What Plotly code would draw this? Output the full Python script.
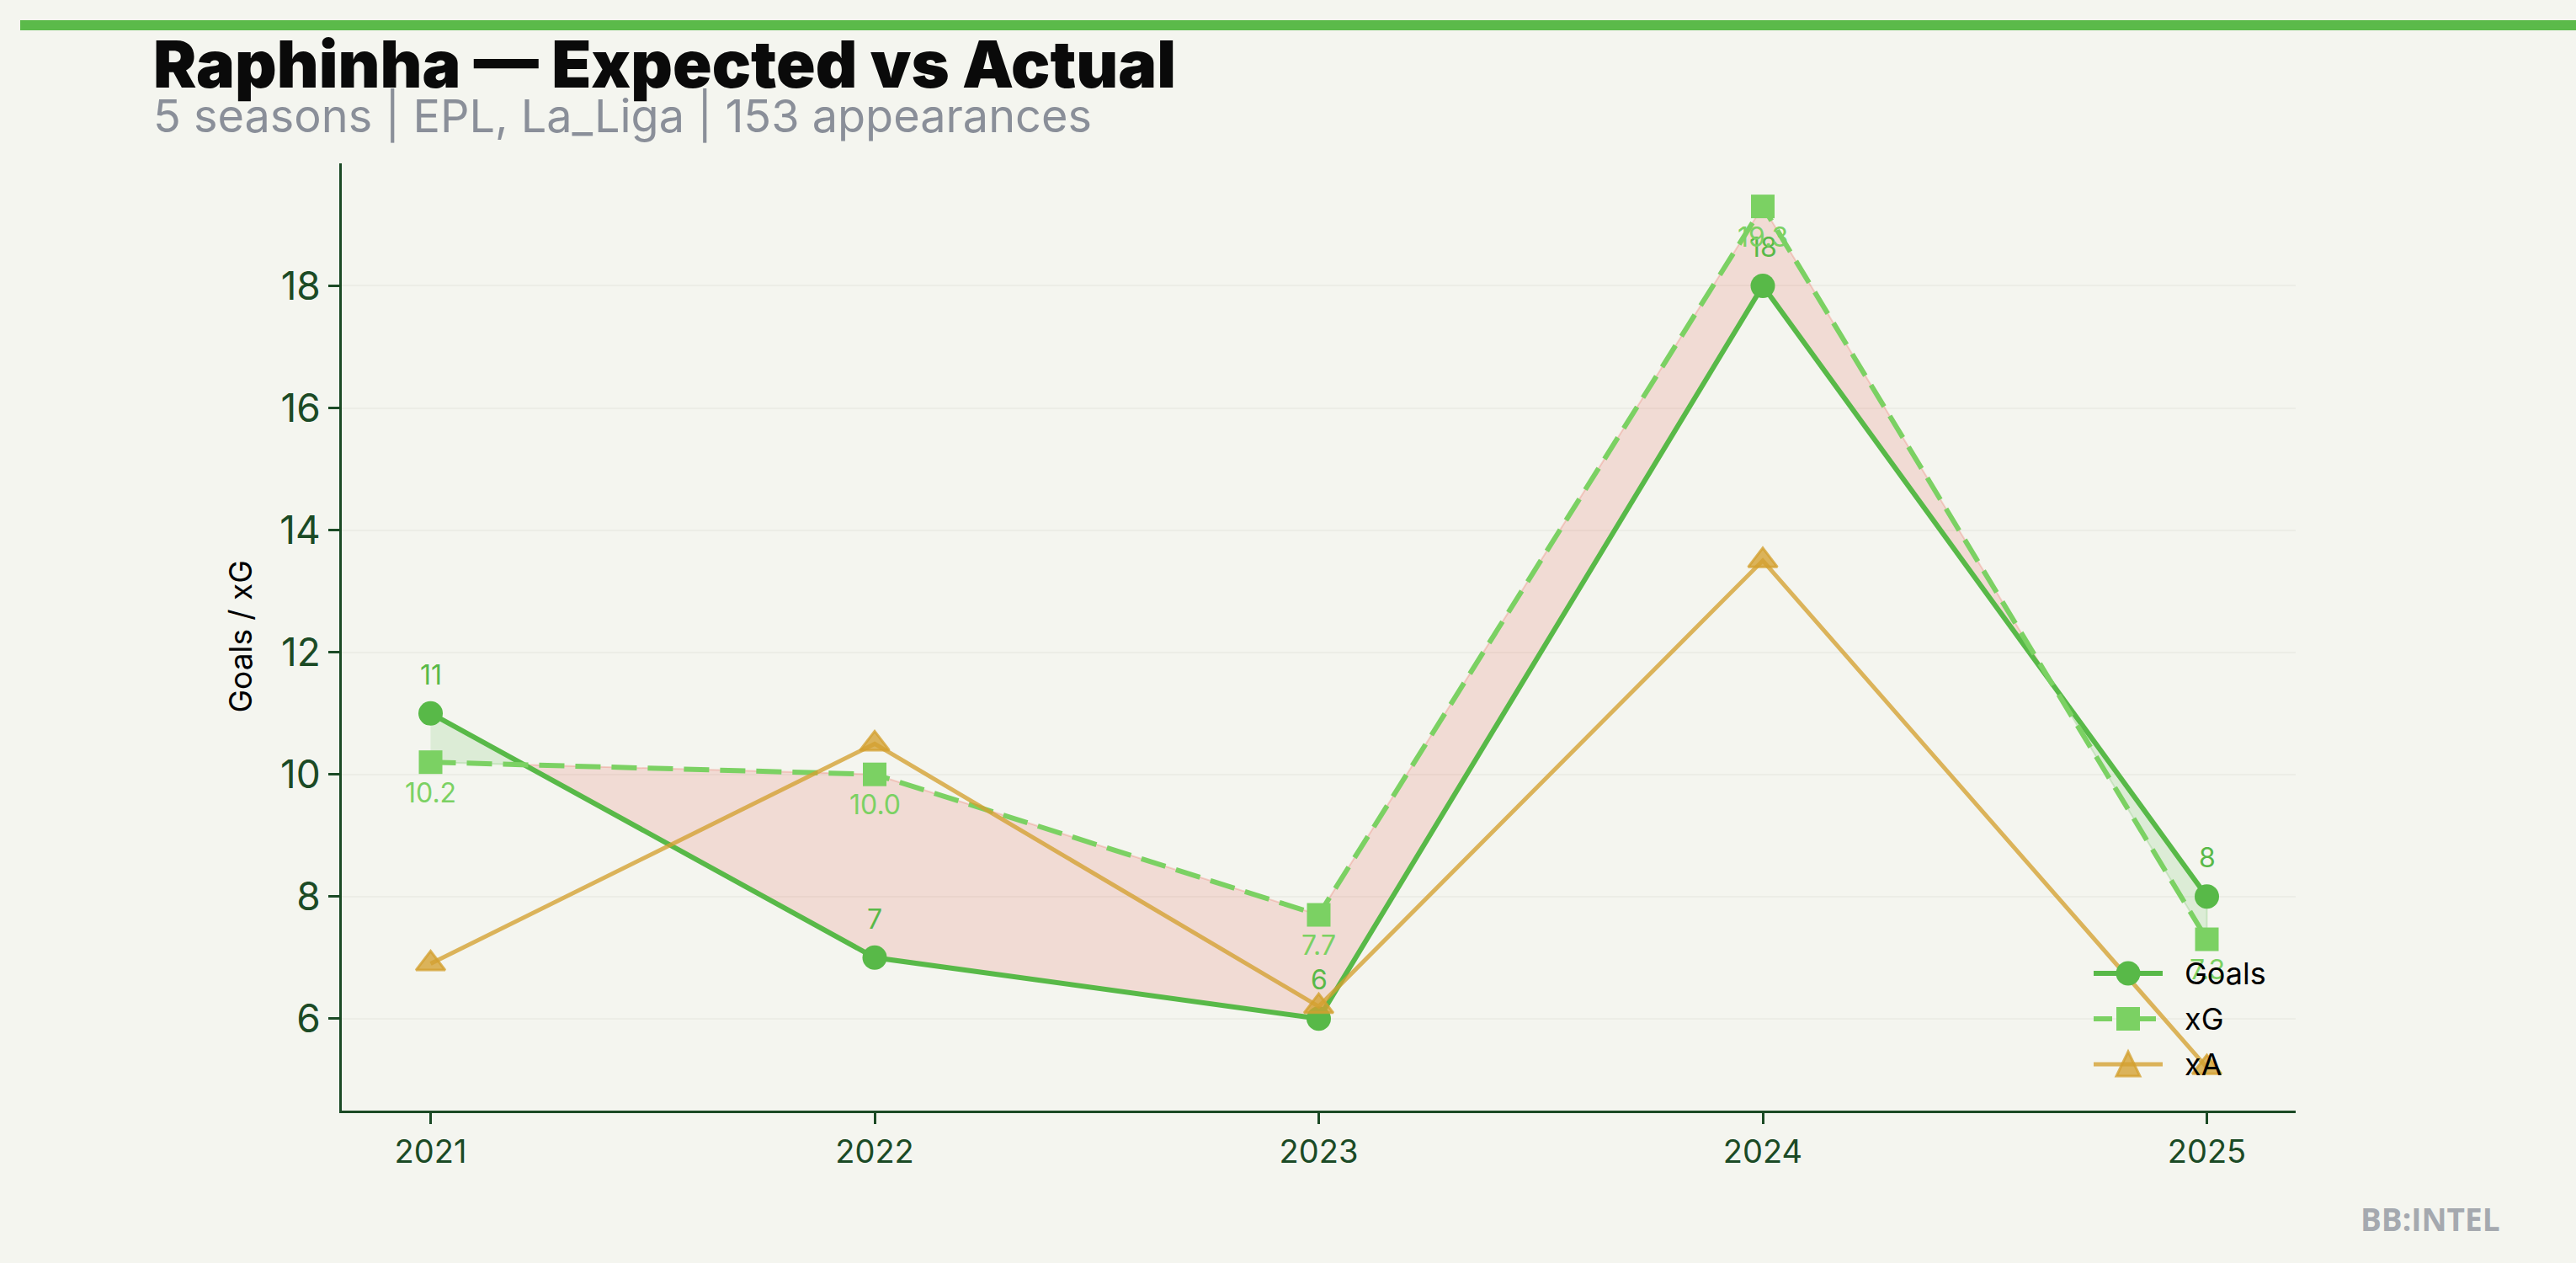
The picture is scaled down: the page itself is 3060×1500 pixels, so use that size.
import plotly.graph_objects as go

# ---- data ----
seasons = [2021, 2022, 2023, 2024, 2025]
goals = [11, 7, 6, 18, 8]
xg = [10.2, 10.0, 7.7, 19.3, 7.3]
xa = [6.9, 10.5, 6.2, 13.5, 5.2]
y_ticks = [6, 8, 10, 12, 14, 16, 18]
series_names = ["Goals", "xG", "xA"]

title_text = "Raphinha — Expected vs Actual"
subtitle_text = "5 seasons | EPL, La_Liga | 153 appearances"
brand_text = "BB:INTEL"

# ---- styles ----
BG = "#F4F5EF"
C_GOALS = "#58B948"
C_XG = "#7BD163"
C_XA = "rgba(212,160,48,0.78)"
AXIS = "#1B4A25"
W, H = 3060, 1500
L, R, T, B = 406, 333, 194, 181
PW, PH = W - L - R, H - T - B


def px_x(px):
    return (px - L) / PW


def px_y(py):
    return (H - B - py) / PH


fig = go.Figure()

# ---- fill between goals and xG (computed from data, split at crossings) ----
pts = []
n = len(seasons)
for i in range(n - 1):
    pts.append((float(seasons[i]), goals[i], xg[i]))
    d0 = goals[i] - xg[i]
    d1 = goals[i + 1] - xg[i + 1]
    if d0 * d1 < 0:
        t = d0 / (d0 - d1)
        xc = seasons[i] + t * (seasons[i + 1] - seasons[i])
        yc = goals[i] + t * (goals[i + 1] - goals[i])
        pts.append((xc, yc, yc))
pts.append((float(seasons[-1]), goals[-1], xg[-1]))

regions = []
cur = [pts[0]]
for p in pts[1:]:
    cur.append(p)
    if abs(p[1] - p[2]) < 1e-12 and len(cur) > 1:
        regions.append(cur)
        cur = [p]
if len(cur) > 1:
    regions.append(cur)

for reg in regions:
    diff = sum(p[1] - p[2] for p in reg)
    if diff >= 0:
        fc, lc = "rgba(90,185,74,0.15)", "rgba(90,185,74,0.22)"
    else:
        fc, lc = "rgba(231,76,60,0.15)", "rgba(231,76,60,0.22)"
    xs = [p[0] for p in reg] + [p[0] for p in reversed(reg)]
    ys = [p[1] for p in reg] + [p[2] for p in reversed(reg)]
    fig.add_trace(go.Scatter(x=xs, y=ys, fill="toself", fillcolor=fc,
                             mode="lines", line=dict(color=lc, width=2),
                             hoverinfo="skip", showlegend=False))

# ---- lines ----
fig.add_trace(go.Scatter(x=seasons, y=goals, name=series_names[0], mode="lines+markers",
                         line=dict(color=C_GOALS, width=6),
                         marker=dict(symbol="circle", size=29, color=C_GOALS),
                         showlegend=False))
fig.add_trace(go.Scatter(x=seasons, y=xg, name=series_names[1], mode="lines+markers",
                         line=dict(color=C_XG, width=6, dash="30px,13px"),
                         marker=dict(symbol="square", size=28, color=C_XG),
                         showlegend=False))
fig.add_trace(go.Scatter(x=seasons, y=xa, name=series_names[2], mode="lines+markers",
                         line=dict(color=C_XA, width=5),
                         marker=dict(symbol="triangle-up", size=30, color=C_XA,
                                     line=dict(color=C_XA, width=3)),
                         showlegend=False))

annotations = []
for s, g in zip(seasons, goals):
    annotations.append(dict(x=s, y=g, xref="x", yref="y", text=f"{g}", showarrow=False,
                            yshift=46, font=dict(family="Inter", size=32, color=C_GOALS)))
for s, v in zip(seasons, xg):
    annotations.append(dict(x=s, y=v, xref="x", yref="y", text=f"{v:.1f}", showarrow=False,
                            yshift=-36, font=dict(family="Inter", size=32, color=C_XG)))

# titles
annotations.append(dict(x=px_x(180), y=px_y(76), xref="paper", yref="paper", text=title_text,
                        showarrow=False, xanchor="left", yanchor="middle",
                        font=dict(family="Inter", size=77, color="#0A0A0A", weight=900)))
annotations.append(dict(x=px_x(180), y=px_y(137), xref="paper", yref="paper", text=subtitle_text,
                        showarrow=False, xanchor="left", yanchor="middle",
                        font=dict(family="Inter", size=54, color="#8A8F99")))
annotations.append(dict(x=px_x(2887), y=px_y(1447), xref="paper", yref="paper", text=brand_text,
                        showarrow=False, xanchor="center", yanchor="middle",
                        font=dict(family="Open Sans", size=37, color="#A5A9AF", weight=700)))
annotations.append(dict(x=px_x(285), y=0.5, xref="paper", yref="paper", text="Goals / xG",
                        showarrow=False, textangle=-90, xanchor="center", yanchor="middle",
                        font=dict(family="Inter", size=37, color="#000000")))

# ---- manual legend (large symbols like the reference) ----
shapes = [dict(type="rect", xref="paper", yref="paper",
               x0=px_x(24), x1=px_x(3060), y0=px_y(36), y1=px_y(24),
               fillcolor="#5BBA4A", line=dict(width=0), layer="above")]
leg_x_sym = px_x(2528)
leg_x_text = px_x(2593)
leg_rows = [1156, 1210, 1264]
leg_styles = [
    dict(color=C_GOALS, width=6, dash="solid", kind="circle"),
    dict(color=C_XG, width=6, dash="22px,30px", kind="square"),
    dict(color=C_XA, width=5, dash="solid", kind="triangle"),
]
for name, row, st in zip(series_names, leg_rows, leg_styles):
    ya = px_y(row)
    shapes.append(dict(type="line", xref="paper", yref="paper", xsizemode="pixel", ysizemode="pixel",
                       xanchor=leg_x_sym, yanchor=ya, x0=-41, x1=41, y0=0, y1=0,
                       line=dict(color=st["color"], width=st["width"], dash=st["dash"]),
                       layer="above"))
    if st["kind"] == "circle":
        shapes.append(dict(type="circle", xref="paper", yref="paper", xsizemode="pixel",
                           ysizemode="pixel", xanchor=leg_x_sym, yanchor=ya,
                           x0=-14.5, x1=14.5, y0=-14.5, y1=14.5,
                           fillcolor=st["color"], line=dict(width=0), layer="above"))
    elif st["kind"] == "square":
        shapes.append(dict(type="rect", xref="paper", yref="paper", xsizemode="pixel",
                           ysizemode="pixel", xanchor=leg_x_sym, yanchor=ya,
                           x0=-14, x1=14, y0=-14, y1=14,
                           fillcolor=st["color"], line=dict(width=0), layer="above"))
    else:
        shapes.append(dict(type="path", xref="paper", yref="paper", xsizemode="pixel",
                           ysizemode="pixel", xanchor=leg_x_sym, yanchor=ya,
                           path="M-14,-14 L14,-14 L0,15 Z",
                           fillcolor=st["color"], line=dict(color=st["color"], width=3),
                           layer="above"))
    annotations.append(dict(x=leg_x_text, y=ya, xref="paper", yref="paper", text=name,
                            showarrow=False, xanchor="left", yanchor="middle",
                            font=dict(family="Inter", size=36, color="#000000")))

span = max(max(goals), max(xg), max(xa)) - min(min(goals), min(xg), min(xa))
ymin = min(min(goals), min(xg), min(xa)) - 0.05 * span
ymax = max(max(goals), max(xg), max(xa)) + 0.05 * span
xspan = seasons[-1] - seasons[0]

fig.update_layout(
    width=W, height=H,
    paper_bgcolor=BG, plot_bgcolor=BG,
    margin=dict(l=L, r=R, t=T, b=B, autoexpand=False),
    showlegend=False,
    annotations=annotations,
    shapes=shapes,
    xaxis=dict(range=[seasons[0] - 0.05 * xspan, seasons[-1] + 0.05 * xspan],
               tickmode="array", tickvals=seasons, ticktext=[str(s) for s in seasons],
               showgrid=False, zeroline=False, showline=True, linecolor=AXIS, linewidth=3,
               ticks="outside", ticklen=13, tickwidth=3, tickcolor=AXIS,
               tickfont=dict(family="Inter", size=38, color=AXIS)),
    yaxis=dict(range=[ymin, ymax], tickmode="array", tickvals=y_ticks,
               showgrid=True, gridcolor="#ECEDE6", gridwidth=2, zeroline=False,
               showline=True, linecolor=AXIS, linewidth=3,
               ticks="outside", ticklen=13, tickwidth=3, tickcolor=AXIS,
               tickfont=dict(family="Inter", size=46, color=AXIS)),
)

fig.write_html("out.html", config={"displayModeBar": False},
               post_script="document.body.style.margin='0';document.body.style.background='#F4F5EF';")
